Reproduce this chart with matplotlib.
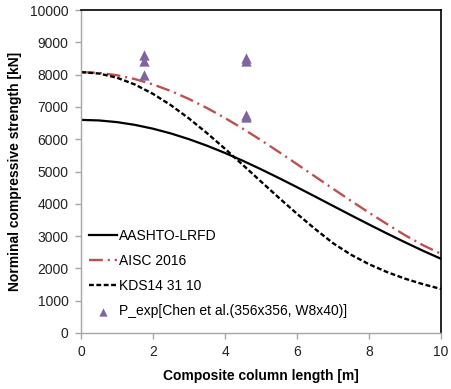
import matplotlib
matplotlib.use("Agg")
import matplotlib.pyplot as plt

plt.rcParams['font.family'] = ['Liberation Sans', 'DejaVu Sans']
plt.rcParams['lines.scale_dashes'] = False

length_m = [0, 0.5, 1, 1.5, 2, 2.5, 3, 3.5, 4, 4.5, 5, 5.5, 6, 6.5, 7, 7.5, 8, 8.5, 9, 9.5, 10]
aashto = [6600, 6583, 6531, 6445, 6327, 6179, 6002, 5800, 5575, 5331, 5070, 4797, 4515,
          4227, 3936, 3646, 3360, 3080, 2809, 2545, 2297]
aisc = [8080, 8056, 7983, 7863, 7698, 7492, 7247, 6967, 6658, 6325, 5971, 5604, 5227,
        4847, 4467, 4092, 3726, 3372, 3027, 2717, 2452]
kds = [8080, 8036, 7906, 7694, 7406, 7052, 6643, 6189, 5704, 5200, 4689, 4183, 3691,
       3222, 2781, 2423, 2129, 1886, 1682, 1510, 1363]
exp_len = [1.74, 1.74, 1.74, 4.58, 4.58, 4.58, 4.58]
exp_val = [8600, 8420, 8000, 8510, 8430, 6750, 6680]

labels = ['AASHTO-LRFD', 'AISC 2016', 'KDS14 31 10', 'P_exp[Chen et al.(356x356, W8x40)]']

fig = plt.figure(figsize=(4.51, 3.89), dpi=100)
ax = fig.add_axes([0.1796, 0.144, 0.7984, 0.830])

ax.plot(length_m, aashto, color='black', lw=1.6, label=labels[0])
ax.plot(length_m, aisc, color='#C0504D', lw=1.7, dashes=(10, 3.5, 1.5, 3.5), label=labels[1])
ax.plot(length_m, kds, color='black', lw=1.7, dashes=(3.5, 1.8), label=labels[2])
ax.scatter(exp_len, exp_val, marker='^', s=55, color='#8064A2', zorder=5, label=labels[3],
           linewidths=0)

ax.set_xlim(0, 10)
ax.set_ylim(0, 10000)
ax.set_xticks(range(0, 11, 2))
ax.set_yticks(range(0, 10001, 1000))

gray = '#A6A6A6'
for s in ['left', 'bottom']:
    ax.spines[s].set_color(gray)
    ax.spines[s].set_linewidth(1.0)
for s in ['top', 'right']:
    ax.spines[s].set_color('black')
    ax.spines[s].set_linewidth(1.2)
ax.tick_params(axis='both', direction='out', length=4, width=1, color=gray,
               labelsize=10, labelcolor='#222222', pad=5)

ax.set_xlabel('Composite column length [m]', fontsize=10, fontweight='bold', labelpad=7)
ax.set_ylabel('Norminal compressive strength [kN]', fontsize=10, fontweight='bold', labelpad=6)

leg = ax.legend(loc='lower left', bbox_to_anchor=(0.0, 0.02), frameon=False, fontsize=10,
                handlelength=2.0, handletextpad=0.15, labelspacing=0.8, borderaxespad=0.2,
                markerscale=0.8)

fig.savefig('out.png', dpi=100)
